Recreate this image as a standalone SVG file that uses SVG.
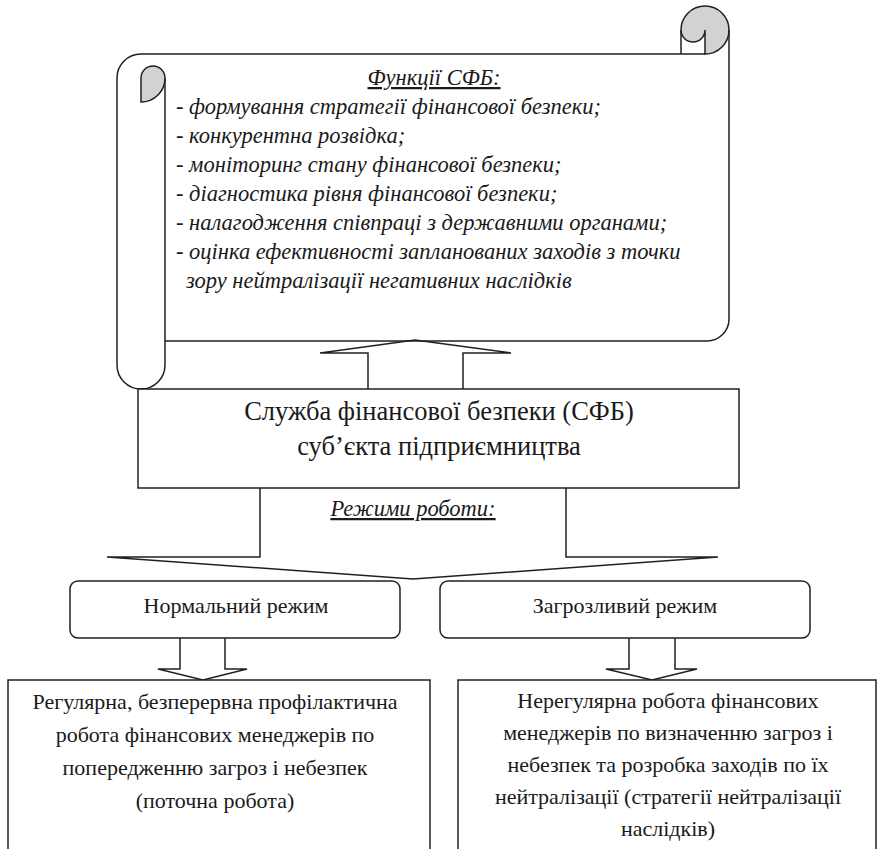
<svg xmlns="http://www.w3.org/2000/svg" width="881" height="849" viewBox="0 0 881 849">
<style>
.ln{fill:none;stroke:#231f20;stroke-width:1.5}
.bx{fill:#fff;stroke:#231f20;stroke-width:1.5}
.gr{fill:#d1d2d4;stroke:#231f20;stroke-width:1.5}
text{font-family:'Liberation Serif','DejaVu Serif',serif;fill:#1a1a1a}
.it{font-style:italic;font-size:22.5px}
.b{font-size:22px}
.c{text-anchor:middle}
</style>
<rect width="881" height="849" fill="#fff"/>
<g id="scroll">
<path class="ln" d="M117,78 A24,24 0 0,1 141,54 L705,54"/>
<path class="ln" d="M117,78 L117,365 A24,24 0 0,0 165,365 L165,78"/>
<path class="gr" d="M141,102 L141,78 A12,12 0 0,1 165,78 A24,24 0 0,1 141,102 Z"/>
<path class="gr" d="M681,30 A24,24 0 0,1 729,30 A24,24 0 0,1 705,54 L705,30 A12,12 0 0,1 681,30 Z"/>
<path class="ln" d="M681,30 L681,54"/>
<path class="ln" d="M729,30 L729,319 A22,22 0 0,1 707,341 L165,341"/>
<text class="it c" x="434" y="85" text-decoration="underline">Функції СФБ:</text>
<text class="it" x="176" y="114">- формування стратегії фінансової безпеки;</text>
<text class="it" x="176" y="143">- конкурентна розвідка;</text>
<text class="it" x="176" y="172">- моніторинг стану фінансової безпеки;</text>
<text class="it" x="176" y="201">- діагностика рівня фінансової безпеки;</text>
<text class="it" x="176" y="230">- налагодження співпраці з державними органами;</text>
<text class="it" x="176" y="259">- оцінка ефективності запланованих заходів з точки</text>
<text class="it" x="186" y="288">зору нейтралізації негативних наслідків</text>
</g>
<g id="connectors">
<polyline class="ln" points="368,389 368,353 320,353 415,340 511,353 463,353 463,389"/>
<polyline class="ln" points="260,488 260,557 107,557 413,579 718,557 566,557 566,488"/>
<polyline class="ln" points="180,638 180,669 158,669 203,680 247,669 225,669 225,638"/>
<polyline class="ln" points="629,638 629,669 606,669 652,680 697,669 675,669 675,638"/>
</g>
<g id="sfb">
<rect class="bx" x="138" y="389" width="601" height="99"/>
<text class="c" x="439" y="420" font-size="26.5">Служба фінансової безпеки (СФБ)</text>
<text class="c" x="439" y="455" font-size="26.5">суб’єкта підприємництва</text>
</g>
<g id="modes-label">
<text class="it c" x="413" y="516" text-decoration="underline">Режими роботи:</text>
</g>
<g id="normal">
<rect class="bx" x="70" y="581" width="330" height="57" rx="8"/>
<text class="c b" x="236" y="613">Нормальний режим</text>
</g>
<g id="threat">
<rect class="bx" x="440" y="581" width="370" height="57" rx="8"/>
<text class="c b" x="625" y="613">Загрозливий режим</text>
</g>
<g id="regular">
<rect class="bx" x="8" y="680" width="422" height="200"/>
<text class="c b" x="215" y="709">Регулярна, безперервна профілактична</text>
<text class="c b" x="215" y="742">робота фінансових менеджерів по</text>
<text class="c b" x="215" y="775">попередженню загроз і небезпек</text>
<text class="c b" x="215" y="808">(поточна робота)</text>
</g>
<g id="irregular">
<rect class="bx" x="458" y="680" width="418" height="200"/>
<text class="c b" x="668" y="708">Нерегулярна робота фінансових</text>
<text class="c b" x="668" y="740">менеджерів по визначенню загроз і</text>
<text class="c b" x="668" y="772">небезпек та розробка заходів по їх</text>
<text class="c b" x="668" y="804">нейтралізації (стратегії нейтралізації</text>
<text class="c b" x="668" y="836">наслідків)</text>
</g>
</svg>
